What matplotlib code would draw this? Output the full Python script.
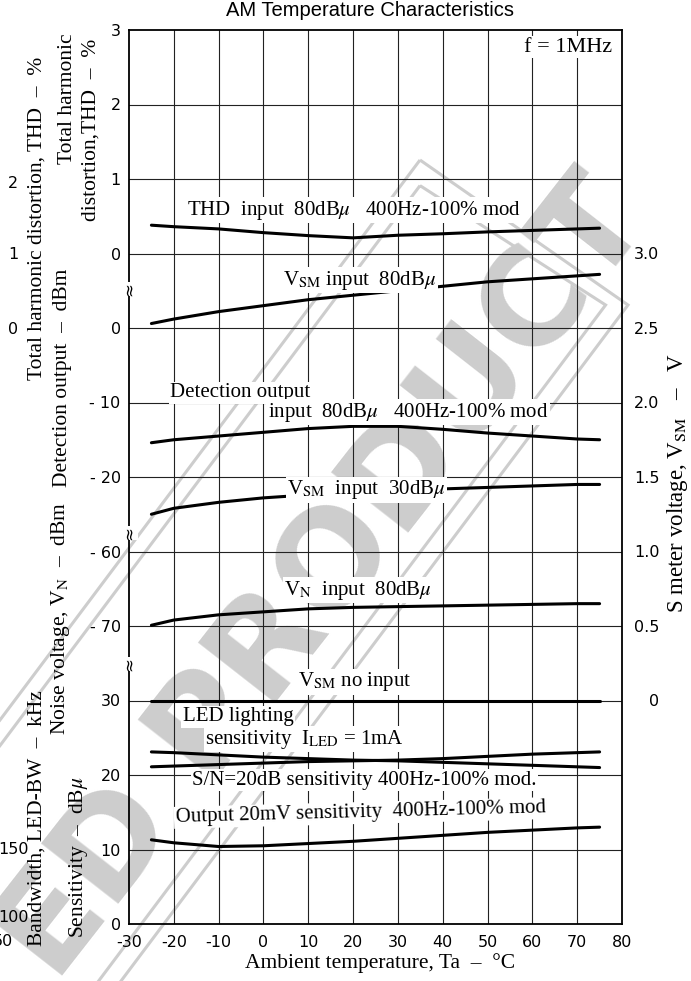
import numpy as np
import matplotlib.pyplot as plt
from matplotlib.patches import Polygon

plt.rcParams['mathtext.fontset'] = 'stix'

W, H = 691, 981

# ambient temperature, deg C
temps = [-25, -20, -10, 0, 10, 20, 30, 40, 50, 60, 70, 75]

# curves
thd_80 = [0.38, 0.36, 0.33, 0.28, 0.24, 0.21, 0.245, 0.265, 0.29, 0.31, 0.33, 0.34]    # %
vsm_80 = [2.53, 2.56, 2.61, 2.65, 2.69, 2.72, 2.75, 2.78, 2.81, 2.83, 2.85, 2.86]      # V
det_80 = [-15.4, -15.0, -14.5, -14.0, -13.5, -13.2, -13.2, -13.6, -14.1, -14.5, -14.9, -15.0]  # dBm
vsm_30 = [1.25, 1.29, 1.33, 1.36, 1.38, 1.39, 1.41, 1.42, 1.43, 1.44, 1.45, 1.45]      # V
vn_80 = [-69.9, -69.2, -68.5, -68.1, -67.7, -67.5, -67.4, -67.3, -67.2, -67.1, -67.0, -67.0]  # dBm
vsm_none = [0.0, 0.0, 0.0, 0.0, 0.0, 0.0, 0.0, 0.0, 0.0, 0.0, 0.0, 0.0]                # V
led_sens = [23.1, 23.0, 22.7, 22.4, 22.2, 22.0, 21.9, 21.7, 21.5, 21.3, 21.1, 21.0]   # dBu
sn_sens = [21.1, 21.2, 21.4, 21.6, 21.8, 21.9, 22.0, 22.2, 22.5, 22.8, 23.0, 23.1]    # dBu
out_20mv = [11.3, 10.9, 10.4, 10.5, 10.8, 11.1, 11.5, 11.9, 12.3, 12.6, 12.9, 13.0]   # dBu

# left scale labels (one per grid row, bottom -> top)
left_labels = ['0', '10', '20', '30', '- 70', '- 60', '- 20', '- 10', '0', '0', '1', '2', '3']
right_ticks = [0, 0.5, 1.0, 1.5, 2.0, 2.5, 3.0]
right_labels = ['0', '0.5', '1.0', '1.5', '2.0', '2.5', '3.0']
x_ticks = [-30, -20, -10, 0, 10, 20, 30, 40, 50, 60, 70, 80]


# every quantity lives on its own stacked scale -> convert to grid rows
def thd_row(v):
    return 9 + np.asarray(v)

def vsm_row(v):
    return 3 + 2 * np.asarray(v)

def det_row(v):
    return 8 + np.asarray(v) / 10

def vn_row(v):
    return 5 + (np.asarray(v) + 60) / 10

def sens_row(v):
    return np.asarray(v) / 10


def fx(px):
    return px / W

def fy(py):
    return 1 - py / H


fig = plt.figure(figsize=(W / 100, H / 100), dpi=100)
ax = fig.add_axes([fx(129), fy(924), (622 - 129) / W, 894 / H])
ax.set_facecolor('none')

serif = 'Liberation Serif'
sans = 'DejaVu Sans'
gray = '#cdcdcd'

# watermark, kept under the plot content
ax.text(fx(325), fy(580), 'ED PRODUCT', rotation=52, ha='center', va='center',
        fontsize=96, fontweight='bold', color=gray, family=sans, zorder=0.2,
        transform=fig.transFigure, clip_on=False)
d = np.array([-0.6, -0.8])
for inset in (0, 16):
    a = np.array([420.0, 821.0 - inset * 1.6])
    b = np.array([628.0 - inset * 1.4, 676.0])
    pts = np.array([a, b, b + 1300 * d, a + 1300 * d])
    pts = np.column_stack([pts[:, 0] / W, pts[:, 1] / H])
    ax.add_patch(Polygon(pts, closed=True, fill=False, edgecolor=gray, lw=2.2,
                         transform=fig.transFigure, zorder=0.2, clip_on=False))

ax.set_xlim(-30, 80)
ax.set_ylim(0, 12)
for xv in range(-20, 80, 10):
    ax.axvline(xv, color='#222222', lw=0.8, zorder=1)
for r in range(1, 12):
    ax.axhline(r, color='#222222', lw=0.8, zorder=1)

lk = dict(color='black', lw=2.2, zorder=3, solid_capstyle='round')
ax.plot(temps, thd_row(thd_80), **lk)
ax.plot(temps, vsm_row(vsm_80), **lk)
ax.plot(temps, det_row(det_80), **lk)
ax.plot(temps, vsm_row(vsm_30), **lk)
ax.plot(temps, vn_row(vn_80), **lk)
ax.plot(temps, vsm_row(vsm_none), **lk)
ax.plot(temps, sens_row(led_sens), **lk)
ax.plot(temps, sens_row(sn_sens), **lk)
ax.plot(temps, sens_row(out_20mv), **lk)

ax.set_xticks(x_ticks)
ax.set_xticklabels([str(v) for v in x_ticks], family=sans, fontsize=11.5)
ax.set_yticks(range(13))
ax.set_yticklabels(left_labels, family=sans, fontsize=11.5)
ax.tick_params(length=0)
ax.tick_params(axis='x', pad=8)
ax.tick_params(axis='y', pad=6)
for s in ax.spines.values():
    s.set_linewidth(1.3)

tw = ax.twinx()
tw.set_ylim(-1.5, 4.5)
tw.set_yticks(right_ticks)
tw.set_yticklabels(right_labels, family=sans, fontsize=11.5, ha='right')
tw.tick_params(length=0, pad=27)
for s in tw.spines.values():
    s.set_visible(False)

# axis breaks on the left spine
for r in (8.52, 5.25, 3.49):
    ax.text(-30, r, '\u2248', rotation=90, ha='center', va='center', fontsize=12,
            family=sans, zorder=5, clip_on=False,
            bbox=dict(facecolor='white', edgecolor='none', pad=0))

wb = dict(facecolor='white', edgecolor='none', pad=1)
def lab(x, r, s, size=15, rot=0):
    ax.text(x, r, s, ha='left', va='center', fontsize=size, family=serif,
            rotation=rot, zorder=4, bbox=wb)

ax.text(77.8, 11.77, 'f = 1MHz', ha='right', va='center', fontsize=16, family=serif,
        zorder=4, bbox=wb)
lab(-17.0, 9.58, 'THD  input  80dB$\\mu$   400Hz-100% mod')
lab(4.4, 8.64, 'V$_{\\rm SM}$ input  80dB$\\mu$')
lab(-20.8, 7.13, 'Detection output')
lab(1.0, 6.87, 'input  80dB$\\mu$   400Hz-100% mod')
lab(5.3, 5.83, 'V$_{\\rm SM}$  input  30dB$\\mu$')
lab(4.6, 4.48, 'V$_{\\rm N}$  input  80dB$\\mu$')
lab(7.7, 3.25, 'V$_{\\rm SM}$ no input')
lab(-18.0, 2.78, 'LED lighting')
lab(-13.0, 2.48, 'sensitivity  I$_{\\rm LED}$ = 1mA')
lab(-15.9, 1.93, 'S/N=20dB sensitivity 400Hz-100% mod.')
lab(-19.7, 1.49, 'Output 20mV sensitivity  400Hz-100% mod', rot=1.5)

fig.text(fx(370), fy(11), 'AM Temperature Characteristics', ha='center', va='center',
         fontsize=14.5, family='Liberation Sans')
fig.text(fx(380), fy(963), 'Ambient temperature, Ta  \u2013  \u00b0C', ha='center',
         va='center', fontsize=15.5, family=serif)

def vlab(px, py, s, size=15.5):
    fig.text(fx(px), fy(py), s, rotation=90, ha='center', va='center',
             fontsize=size, family=serif)

vlab(37, 218, 'Total harmonic distortion, THD  \u2013  %')
vlab(68, 99, 'Total harmonic')
vlab(91, 130, 'distortion,THD  \u2013  %')
vlab(62, 378, 'Detection output  \u2013  dBm')
vlab(61, 618, 'Noise voltage, V$_{\\rm N}$  \u2013  dBm')
vlab(37, 818, 'Bandwidth, LED-BW  \u2013  kHz')
vlab(79, 857, 'Sensitivity  \u2013  dB$\\mu$')
vlab(678, 483, 'S meter voltage, V$_{\\rm SM}$   \u2013   V', size=16.5)

# leftover scale numbers from the outer axis
for px, py, s in [(13, 183, '2'), (13, 255, '1'), (13, 330, '0'),
                  (14, 850, '150'), (14, 918, '100'), (3, 942, '50')]:
    fig.text(fx(px), fy(py), s, ha='center', va='center', fontsize=11.5, family=sans)

fig.savefig('out.png', dpi=100)
